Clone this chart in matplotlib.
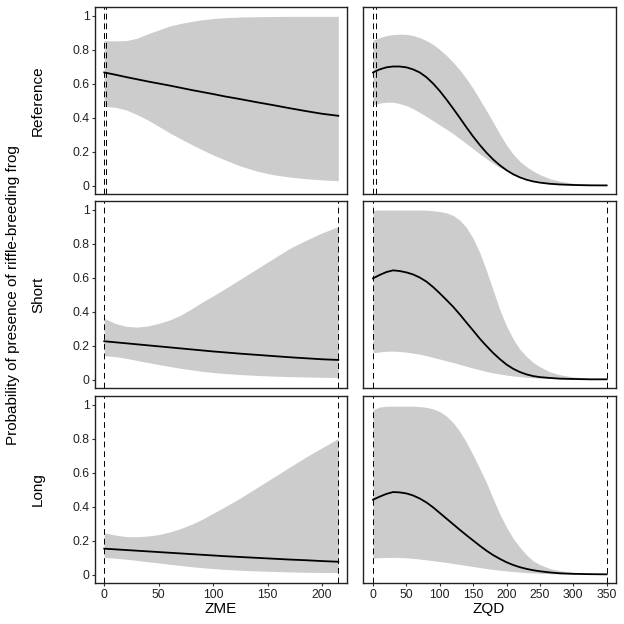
import numpy as np
import matplotlib
matplotlib.use("Agg")
import matplotlib.pyplot as plt

plt.rcParams["font.family"] = ["Liberation Sans", "DejaVu Sans"]

# -----------------------------
# Data
# -----------------------------
rows = ["Reference", "Short", "Long"]

zme = [0, 10, 20, 30, 40, 50, 60, 70, 80, 90, 100, 110, 125, 140, 155, 170, 185, 200, 215]
zqd = [0, 10, 20, 30, 40, 50, 60, 70, 80, 90, 100, 110, 120, 130, 140, 150, 160, 170,
       180, 190, 200, 210, 220, 230, 240, 250, 265, 280, 300, 325, 350]

# ZME panels
ref_zme_mean = [0.665, 0.652, 0.638, 0.625, 0.612, 0.600, 0.588, 0.575, 0.562, 0.550, 0.538,
                0.525, 0.508, 0.490, 0.473, 0.455, 0.438, 0.422, 0.410]
ref_zme_hi = [0.852, 0.851, 0.852, 0.866, 0.892, 0.915, 0.938, 0.953, 0.965, 0.975, 0.982,
              0.987, 0.991, 0.993, 0.994, 0.995, 0.995, 0.995, 0.995]
ref_zme_lo = [0.465, 0.460, 0.445, 0.418, 0.385, 0.348, 0.310, 0.275, 0.242, 0.210, 0.180,
              0.153, 0.115, 0.085, 0.064, 0.050, 0.040, 0.033, 0.028]

short_zme_mean = [0.225, 0.219, 0.213, 0.207, 0.201, 0.195, 0.189, 0.183, 0.177, 0.171, 0.165,
                  0.160, 0.152, 0.145, 0.138, 0.131, 0.125, 0.119, 0.115]
short_zme_hi = [0.360, 0.330, 0.313, 0.308, 0.315, 0.330, 0.350, 0.378, 0.415, 0.455, 0.492,
                0.530, 0.590, 0.650, 0.710, 0.770, 0.818, 0.862, 0.900]
short_zme_lo = [0.140, 0.135, 0.125, 0.112, 0.100, 0.088, 0.077, 0.066, 0.057, 0.048, 0.041,
                0.036, 0.029, 0.024, 0.020, 0.017, 0.015, 0.013, 0.012]

long_zme_mean = [0.152, 0.148, 0.144, 0.140, 0.136, 0.132, 0.128, 0.124, 0.120, 0.116, 0.112,
                 0.108, 0.103, 0.098, 0.093, 0.088, 0.084, 0.079, 0.075]
long_zme_hi = [0.245, 0.232, 0.223, 0.222, 0.226, 0.235, 0.250, 0.270, 0.295, 0.325, 0.360,
               0.395, 0.450, 0.510, 0.570, 0.630, 0.690, 0.745, 0.800]
long_zme_lo = [0.100, 0.096, 0.090, 0.083, 0.075, 0.068, 0.060, 0.053, 0.046, 0.040, 0.035,
               0.030, 0.025, 0.021, 0.018, 0.015, 0.013, 0.012, 0.011]

# ZQD panels
ref_zqd_mean = [0.665, 0.683, 0.695, 0.700, 0.700, 0.695, 0.683, 0.665, 0.637, 0.600, 0.556,
                0.506, 0.453, 0.398, 0.342, 0.288, 0.238, 0.193, 0.153, 0.119, 0.090, 0.066,
                0.048, 0.034, 0.024, 0.017, 0.010, 0.006, 0.003, 0.001, 0.0005]
ref_zqd_hi = [0.855, 0.870, 0.882, 0.888, 0.890, 0.889, 0.882, 0.870, 0.852, 0.830, 0.800,
              0.765, 0.725, 0.680, 0.628, 0.570, 0.505, 0.440, 0.372, 0.302, 0.238, 0.185,
              0.142, 0.110, 0.085, 0.064, 0.040, 0.025, 0.013, 0.006, 0.003]
ref_zqd_lo = [0.475, 0.485, 0.490, 0.490, 0.482, 0.470, 0.452, 0.430, 0.406, 0.381, 0.356,
              0.331, 0.305, 0.276, 0.246, 0.216, 0.186, 0.157, 0.130, 0.106, 0.086, 0.070,
              0.056, 0.043, 0.033, 0.025, 0.015, 0.009, 0.004, 0.002, 0.001]

short_zqd_mean = [0.595, 0.615, 0.632, 0.642, 0.638, 0.630, 0.618, 0.600, 0.576, 0.544, 0.507,
                  0.468, 0.428, 0.383, 0.335, 0.288, 0.240, 0.197, 0.156, 0.120, 0.088, 0.063,
                  0.044, 0.030, 0.020, 0.014, 0.009, 0.005, 0.003, 0.001, 0.001]
short_zqd_hi = [0.995, 0.997, 0.997, 0.997, 0.997, 0.997, 0.997, 0.997, 0.996, 0.993, 0.988,
                0.980, 0.965, 0.938, 0.893, 0.830, 0.745, 0.640, 0.525, 0.410, 0.315, 0.238,
                0.178, 0.135, 0.100, 0.075, 0.045, 0.028, 0.015, 0.007, 0.003]
short_zqd_lo = [0.157, 0.162, 0.166, 0.167, 0.165, 0.161, 0.155, 0.149, 0.140, 0.130, 0.120,
                0.110, 0.100, 0.089, 0.078, 0.067, 0.057, 0.047, 0.039, 0.032, 0.026, 0.021,
                0.017, 0.013, 0.010, 0.008, 0.006, 0.004, 0.002, 0.001, 0.001]

long_zqd_mean = [0.440, 0.458, 0.474, 0.485, 0.483, 0.477, 0.465, 0.447, 0.424, 0.395, 0.362,
                 0.329, 0.296, 0.263, 0.231, 0.200, 0.169, 0.140, 0.114, 0.092, 0.072, 0.056,
                 0.043, 0.033, 0.025, 0.019, 0.012, 0.007, 0.004, 0.002, 0.001]
long_zqd_hi = [0.970, 0.985, 0.990, 0.990, 0.990, 0.990, 0.990, 0.988, 0.983, 0.974, 0.958,
               0.932, 0.893, 0.842, 0.777, 0.702, 0.622, 0.540, 0.445, 0.355, 0.278, 0.212,
               0.160, 0.115, 0.080, 0.058, 0.035, 0.022, 0.012, 0.005, 0.002]
long_zqd_lo = [0.096, 0.099, 0.100, 0.101, 0.100, 0.098, 0.095, 0.091, 0.086, 0.081, 0.076,
               0.071, 0.065, 0.059, 0.053, 0.047, 0.041, 0.035, 0.030, 0.025, 0.021, 0.017,
               0.014, 0.011, 0.009, 0.007, 0.005, 0.003, 0.002, 0.001, 0.001]

# observed ranges (dashed lines)
zme_range = [[0, 2], [0, 215], [0, 215]]
zqd_range = [[0, 5], [0, 350], [0, 350]]

zme_panels = [(ref_zme_mean, ref_zme_lo, ref_zme_hi),
              (short_zme_mean, short_zme_lo, short_zme_hi),
              (long_zme_mean, long_zme_lo, long_zme_hi)]
zqd_panels = [(ref_zqd_mean, ref_zqd_lo, ref_zqd_hi),
              (short_zqd_mean, short_zqd_lo, short_zqd_hi),
              (long_zqd_mean, long_zqd_lo, long_zqd_hi)]

# -----------------------------
# Figure layout
# -----------------------------
W = H = 624
fig = plt.figure(figsize=(6.24, 6.24), dpi=100)

col_left = [95, 363]
col_w = [252, 253]
row_top = [7, 201, 396]
row_h = 187

band_col = "#cccccc"


def style_axes(ax, show_x, show_y, xticks):
    for s in ax.spines.values():
        s.set_color("#222222")
        s.set_linewidth(1.0)
    ax.set_ylim(-0.05, 1.05)
    ax.set_yticks([0, 0.2, 0.4, 0.6, 0.8, 1])
    ax.set_yticklabels(["0", "0.2", "0.4", "0.6", "0.8", "1"])
    ax.set_xticks(xticks)
    ax.set_xticklabels([str(t) for t in xticks])
    ax.tick_params(axis="both", length=2.5, width=0.8, color="#333333",
                   labelsize=8.8, labelcolor="#222222", pad=1.5)
    if not show_x:
        ax.tick_params(axis="x", length=0, labelbottom=False)
    if not show_y:
        ax.tick_params(axis="y", length=0, labelleft=False)


for r in range(3):
    for c in range(2):
        x0 = col_left[c] / W
        y0 = 1 - (row_top[r] + row_h) / H
        ax = fig.add_axes([x0, y0, col_w[c] / W, row_h / H])
        if c == 0:
            xs = zme
            mean, lo, hi = zme_panels[r]
            rng = zme_range[r]
            ax.set_xlim(-8.5, 223)
            ticks = [0, 50, 100, 150, 200]
        else:
            xs = zqd
            mean, lo, hi = zqd_panels[r]
            rng = zqd_range[r]
            ax.set_xlim(-15, 364)
            ticks = [0, 50, 100, 150, 200, 250, 300, 350]
        ax.fill_between(xs, lo, hi, color=band_col, linewidth=0)
        ax.plot(xs, mean, color="black", linewidth=1.3)
        for v in rng:
            ax.axvline(v, color="black", linewidth=0.7, linestyle=(0, (6, 4)))
        style_axes(ax, show_x=(r == 2), show_y=(c == 0), xticks=ticks)
        if c == 0:
            fig.text(38 / W, 1 - (row_top[r] + row_h / 2) / H, rows[r],
                     rotation=90, ha="center", va="center", fontsize=11)

fig.text(13 / W, 1 - 295 / H, "Probability of presence of riffle-breeding frog",
         rotation=90, ha="center", va="center", fontsize=11)
fig.text((95 + 126) / W, 1 - 609 / H, "ZME", ha="center", va="center", fontsize=11)
fig.text((363 + 126) / W, 1 - 609 / H, "ZQD", ha="center", va="center", fontsize=11)

fig.savefig("out.png", dpi=100)
